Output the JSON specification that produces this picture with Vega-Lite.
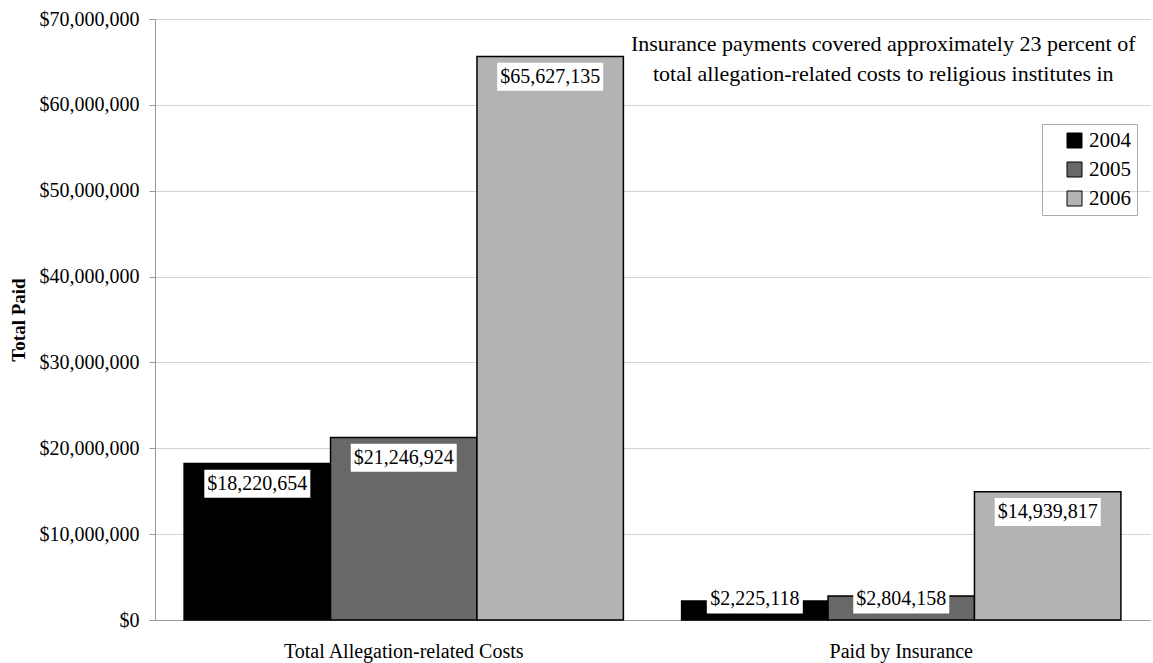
{
  "$schema": "https://vega.github.io/schema/vega-lite/v6.json",
  "autosize": "none",
  "width": 995,
  "height": 601,
  "padding": {"left": 155, "top": 19, "right": 3, "bottom": 43},
  "background": "white",
  "config": {
    "font": "Liberation Serif",
    "view": {"stroke": null},
    "axis": {"labelFont": "Liberation Serif", "titleFont": "Liberation Serif", "labelColor": "black", "titleColor": "black"},
    "legend": {"labelFont": "Liberation Serif"}
  },
  "data": {
    "values": [
      {"category": "Total Allegation-related Costs", "year": "2004", "value": 18220654},
      {"category": "Total Allegation-related Costs", "year": "2005", "value": 21246924},
      {"category": "Total Allegation-related Costs", "year": "2006", "value": 65627135},
      {"category": "Paid by Insurance", "year": "2004", "value": 2225118},
      {"category": "Paid by Insurance", "year": "2005", "value": 2804158},
      {"category": "Paid by Insurance", "year": "2006", "value": 14939817}
    ]
  },
  "transform": [
    {"calculate": "datum.value > 5000000 ? datum.value - 2350000 : 2400000", "as": "labelPos"},
    {"calculate": "datum.labelPos + 1630000", "as": "boxTop"},
    {"calculate": "datum.labelPos - 1630000", "as": "boxBot"},
    {"calculate": "datum.value >= 10000000 ? 106 : 96", "as": "boxW"}
  ],
  "encoding": {
    "x": {
      "field": "category", "type": "nominal",
      "sort": ["Total Allegation-related Costs", "Paid by Insurance"],
      "scale": {"paddingInner": 0.117, "paddingOuter": 0.0585},
      "axis": {"title": null, "labelAngle": 0, "ticks": false, "domainColor": "#999999", "labelFontSize": 20, "labelPadding": 21, "labelLimit": 0, "grid": false}
    },
    "xOffset": {"field": "year", "type": "nominal", "scale": {"paddingInner": 0, "paddingOuter": 0}}
  },
  "layer": [
    {
      "mark": {"type": "bar", "stroke": "black", "strokeWidth": 1.5},
      "encoding": {
        "y": {
          "field": "value", "type": "quantitative",
          "scale": {"domain": [0, 70000000]},
          "axis": {
            "values": [0, 10000000, 20000000, 30000000, 40000000, 50000000, 60000000, 70000000],
            "format": "$,.0f",
            "title": "Total Paid",
            "titleFontSize": 19, "titleFontWeight": "bold", "titlePadding": 11,
            "labelFontSize": 20, "labelPadding": 10,
            "tickSize": 6, "tickColor": "#999999", "domainColor": "#999999",
            "grid": true, "gridColor": "#d4d4d4"
          }
        },
        "color": {
          "field": "year", "type": "nominal",
          "scale": {"domain": ["2004", "2005", "2006"], "range": ["#000000", "#686868", "#b3b3b3"]},
          "legend": {
            "title": null, "orient": "none", "legendX": 887, "legendY": 105,
            "strokeColor": "#aaaaaa", "padding": 6, "symbolOffset": 16,
            "symbolType": "square", "symbolSize": 225, "symbolStrokeColor": "black", "symbolStrokeWidth": 1,
            "labelFontSize": 21, "labelColor": "black", "rowPadding": 7, "labelOffset": 4
          }
        }
      }
    },
    {
      "mark": {"type": "bar", "color": "white"},
      "encoding": {
        "y": {"field": "boxTop", "type": "quantitative"},
        "y2": {"field": "boxBot"},
        "size": {"field": "boxW", "type": "quantitative", "scale": null, "legend": null}
      }
    },
    {
      "mark": {"type": "text", "fontSize": 20, "color": "black", "baseline": "middle"},
      "encoding": {
        "y": {"field": "labelPos", "type": "quantitative"},
        "text": {"field": "value", "type": "quantitative", "format": "$,.0f"}
      }
    },
    {
      "data": {"values": [{"lines": ["Insurance payments covered approximately 23 percent of", "total allegation-related costs to religious institutes in"]}]},
      "mark": {"type": "text", "fontSize": 22, "color": "black", "baseline": "alphabetic", "lineHeight": 30, "dx": -18},
      "encoding": {
        "x": {"datum": "Paid by Insurance"},
        "xOffset": {"datum": "2005"},
        "y": {"datum": 66300000, "type": "quantitative"},
        "text": {"field": "lines"}
      }
    }
  ]
}
